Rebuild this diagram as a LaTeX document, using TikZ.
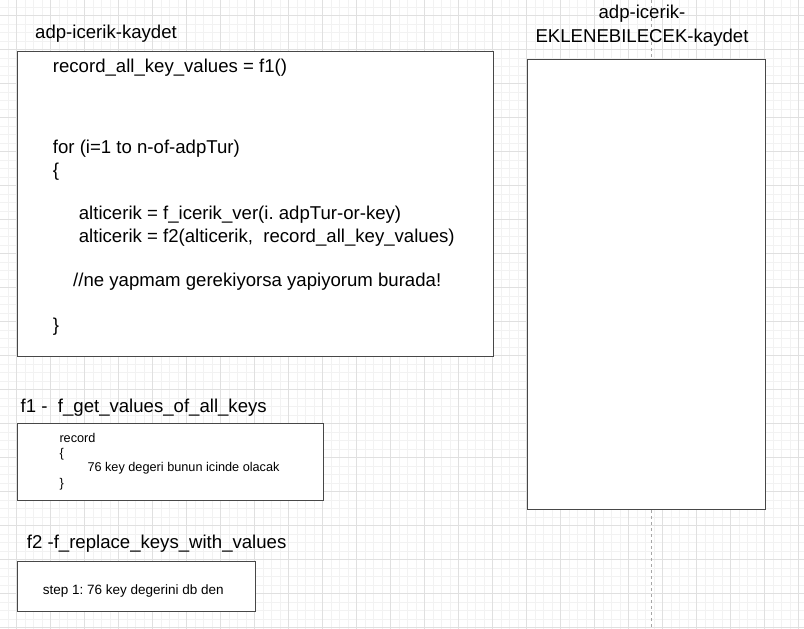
\documentclass[tikz,border=0pt]{standalone}
\usepackage{fontspec}
\setmainfont{Liberation Sans}
\usetikzlibrary{positioning}
\frenchspacing

\begin{document}
\begin{tikzpicture}[x=1pt,y=-1pt,
    gridminor/.style={draw=black!5,line width=0.6pt},
    gridmajor/.style={draw=black!12,line width=0.7pt},
    box/.style={draw=black!72,line width=1pt,fill=white,anchor=north west,inner sep=0pt},
    big/.style={anchor=base west,inner sep=0pt,font=\fontsize{18.6}{22}\selectfont},
    small/.style={anchor=base west,inner sep=0pt,font=\fontsize{12.7}{15}\selectfont}]

    \useasboundingbox[fill=white] (0,0) rectangle (804,629);

    \foreach \i in {-1,...,92}
        \draw[gridminor] (16.7+\i*8.5,0) -- (16.7+\i*8.5,629);
    \foreach \i in {-1,...,72}
        \draw[gridminor] (0,15.7+\i*8.5) -- (804,15.7+\i*8.5);
    \foreach \j in {0,...,23}
        \draw[gridmajor] (16.7+\j*34,0) -- (16.7+\j*34,629);
    \foreach \j in {0,...,18}
        \draw[gridmajor] (0,15.7+\j*34) -- (804,15.7+\j*34);

    \coordinate (lanetop) at (651.7,0);
    \coordinate (lanebot) at (651.7,629);
    \draw[black!35,line width=0.8pt,dash pattern=on 3pt off 3pt] (lanetop) -- (lanebot);

    \node[box,minimum width=476pt,minimum height=305pt] (kaydet) at (17,50.7) {};
    \node[box,minimum width=238pt,minimum height=450.3pt] (ekle) at (526.7,58.7) {};
    \node[box,minimum width=305.7pt,minimum height=76.7pt] (fone) at (17,423.3) {};
    \node[box,minimum width=238pt,minimum height=50pt] (ftwo) at (17,560.7) {};

    \node[big] (kaydettitle) at (35,38.5) {adp-icerik-kaydet};
    \node[big,anchor=base] (ekletitleA) at (642,19) {adp-icerik-};
    \node[big,anchor=base] (ekletitleB) at (642,42) {EKLENEBILECEK-kaydet};
    \node[big] (fonetitle) at (20.5,412.3) {f1 -\ \ f\_get\_values\_of\_all\_keys};
    \node[big] (ftwotitle) at (26.7,548.3) {f2 -f\_replace\_keys\_with\_values};

    \node[big] (kline1) at (52.7,72.5) {record\_all\_key\_values = f1()};
    \node[big] (kline2) at (52.7,153.3) {for (i=1 to n-of-adpTur)};
    \node[big] (kline3) at (52.7,176) {\{};
    \node[big] (kline4) at (78.7,219.3) {alticerik = f\_icerik\_ver(i. adpTur-or-key)};
    \node[big] (kline5) at (78.7,242) {alticerik = f2(alticerik,\ \ record\_all\_key\_values)};
    \node[big] (kline6) at (73,286.7) {//ne yapmam gerekiyorsa yapiyorum burada!};
    \node[big] (kline7) at (52.7,331) {\}};

    \node[small] (fline1) at (59.3,442) {record};
    \node[small] (fline2) at (59.3,457) {\{};
    \node[small] (fline3) at (87.3,471.7) {76 key degeri bunun icinde olacak};
    \node[small] (fline4) at (59.3,487) {\}};

    \node[small,anchor=base,font=\fontsize{13.5}{16}\selectfont] (sline1) at (133.3,594) {step 1: 76 key degerini db den};
\end{tikzpicture}
\end{document}
